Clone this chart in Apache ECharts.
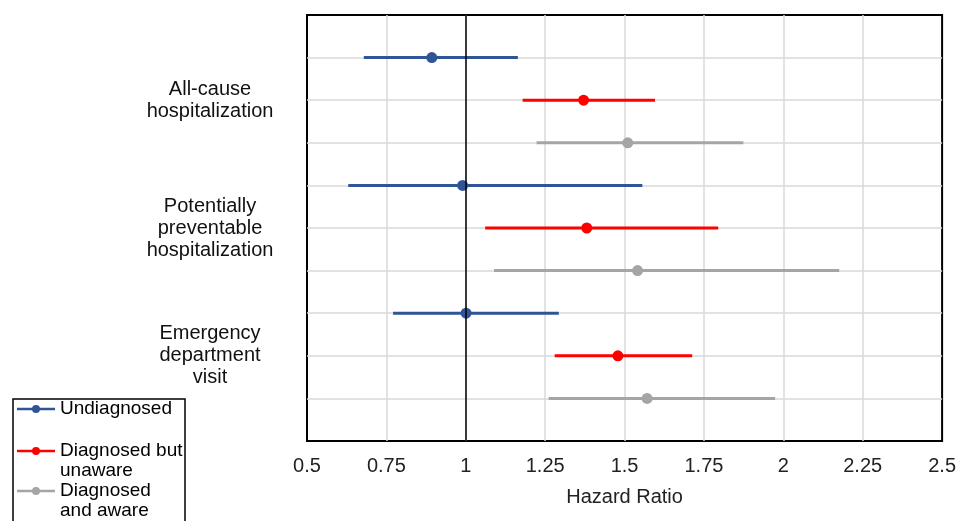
<!DOCTYPE html>
<html>
<head>
<meta charset="utf-8">
<script src="https://cdn.jsdelivr.net/npm/echarts@6/dist/echarts.min.js"></script>
<style>
  html, body { margin: 0; padding: 0; background: #fff; }
  #chart { width: 959px; height: 521px; }
</style>
</head>
<body>
<div id="chart"></div>
<script>
// Outcomes (top to bottom) and groups
const outcomes = ['All-cause\nhospitalization', 'Potentially\npreventable\nhospitalization', 'Emergency\ndepartment\nvisit'];
const groups = ['Undiagnosed', 'Diagnosed but\nunaware', 'Diagnosed\nand aware'];
const groupColors = ['#2F5597', '#FF0000', '#A5A5A5'];

// Hazard ratios and 95% CI, one value per outcome
const undiagnosedHR = [0.893, 0.990, 1.001];
const undiagnosedLow = [0.679, 0.630, 0.771];
const undiagnosedHigh = [1.164, 1.556, 1.293];

const unawareHR = [1.371, 1.381, 1.479];
const unawareLow = [1.179, 1.061, 1.280];
const unawareHigh = [1.596, 1.795, 1.713];

const awareHR = [1.510, 1.541, 1.571];
const awareLow = [1.223, 1.089, 1.261];
const awareHigh = [1.874, 2.176, 1.974];

const xTicks = { min: 0.5, max: 2.5, interval: 0.25 };

const groupData = [
    { hr: undiagnosedHR, low: undiagnosedLow, high: undiagnosedHigh },
    { hr: unawareHR, low: unawareLow, high: unawareHigh },
    { hr: awareHR, low: awareLow, high: awareHigh }
];

const chart = echarts.init(document.getElementById('chart'));
const font = 'Liberation Sans, Arial, sans-serif';

// each outcome takes 3 rows, label sits on the middle row
function rowOf(outcomeIdx, groupIdx) { return 1 + outcomeIdx * 3 + groupIdx; }

const series = [];
groupData.forEach((g, gi) => {
    const bars = g.hr.map((_, oi) => [rowOf(oi, gi), g.low[oi], g.high[oi]]);
    const pts = g.hr.map((v, oi) => [v, rowOf(oi, gi)]);
    series.push({
        name: groups[gi],
        type: 'custom',
        z: 2,
        encode: { x: [1, 2], y: 0 },
        data: bars,
        itemStyle: { color: groupColors[gi] },
        renderItem: function (params, api) {
            const a = api.coord([api.value(1), api.value(0)]);
            const b = api.coord([api.value(2), api.value(0)]);
            return {
                type: 'line',
                shape: { x1: a[0], y1: a[1], x2: b[0], y2: b[1] },
                style: { stroke: groupColors[gi], lineWidth: 3 }
            };
        }
    });
    series.push({
        name: groups[gi],
        type: 'scatter',
        z: 3,
        symbol: 'circle',
        symbolSize: 11,
        itemStyle: { color: groupColors[gi], opacity: 1 },
        data: pts
    });
});

// reference line at HR = 1
series.push({
    name: 'ref',
    type: 'line',
    data: [],
    z: 4,
    markLine: {
        silent: true,
        symbol: 'none',
        label: { show: false },
        lineStyle: { color: '#000', width: 1.5, type: 'solid' },
        data: [{ xAxis: 1 }]
    }
});

// legend: two-line names get an empty first line so the icon sits on the first text line
const legendIcon = 'path://M0,3.8H38V6.2H0Z M19,1A4,4 0 1,1 19,9A4,4 0 1,1 19,1Z';
const legendTops = [399, 421, 461];
const legends = groups.map((name, i) => ({
    left: 17,
    top: legendTops[i],
    padding: 0,
    selectedMode: false,
    itemWidth: 38,
    itemHeight: 8,
    itemGap: 0,
    data: [{ name: name, icon: legendIcon, itemStyle: { color: groupColors[i] } }],
    formatter: n => (n.indexOf('\n') >= 0 ? ' \n' + n : n),
    textStyle: { fontFamily: font, fontSize: 19, color: '#000', lineHeight: 20 }
}));

const option = {
    animation: false,
    backgroundColor: '#fff',
    grid: {
        left: 307, right: 16, top: 15, bottom: 80,
        show: true,
        borderColor: '#000',
        borderWidth: 2,
        backgroundColor: 'transparent'
    },
    legend: legends,
    graphic: [{
        type: 'rect',
        shape: { x: 13, y: 399, width: 172, height: 140 },
        style: { fill: 'none', stroke: '#000', lineWidth: 1.5 },
        z: 0
    }],
    xAxis: {
        type: 'value',
        min: xTicks.min,
        max: xTicks.max,
        interval: xTicks.interval,
        name: 'Hazard Ratio',
        nameLocation: 'middle',
        nameGap: 46,
        nameTextStyle: { fontFamily: font, fontSize: 20, color: '#222' },
        axisLine: { show: false },
        axisTick: { show: false },
        axisLabel: { fontFamily: font, fontSize: 20, color: '#222', margin: 15 },
        splitLine: {
            show: true, showMinLine: false, showMaxLine: false,
            lineStyle: { color: '#D9D9D9', width: 1.5 }
        }
    },
    yAxis: {
        type: 'value',
        inverse: true,
        min: 0,
        max: 10,
        interval: 1,
        axisLine: { show: false },
        axisTick: { show: false },
        axisLabel: {
            fontFamily: font, fontSize: 20, color: '#111', lineHeight: 22,
            align: 'center', margin: 97, padding: [0, 0, 12, 0],
            formatter: function (v) {
                for (let i = 0; i < outcomes.length; i++) {
                    if (v === rowOf(i, 1)) return outcomes[i];
                }
                return '';
            }
        },
        splitLine: {
            show: true, showMinLine: false, showMaxLine: false,
            lineStyle: { color: '#D9D9D9', width: 1.5 }
        }
    },
    series: series
};

chart.setOption(option);
</script>
</body>
</html>
